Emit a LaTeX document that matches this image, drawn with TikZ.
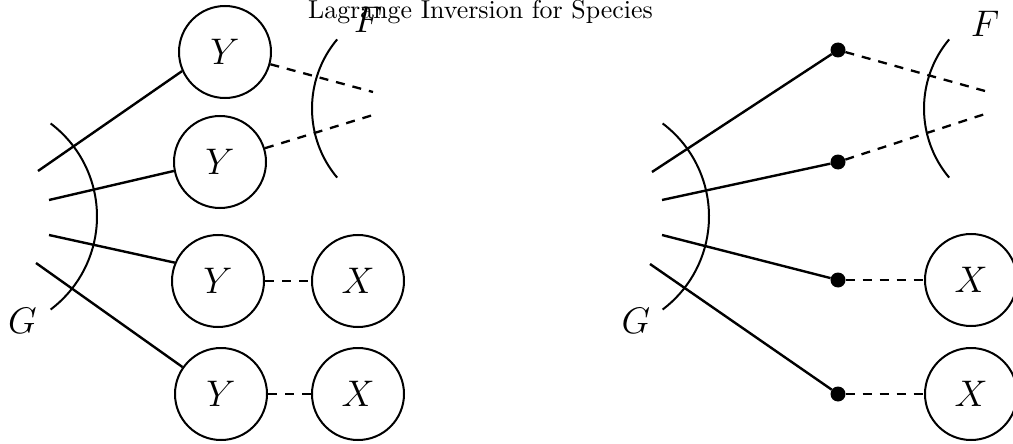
\RequirePackage{fix-cm}
\documentclass[tikz,border=0pt]{standalone}
\begin{document}
\begin{tikzpicture}[x=1pt,y=-1pt,
  circ/.style={draw, circle, minimum size=92pt, inner sep=0pt, line width=2pt, font=\fontsize{37}{40}\selectfont},
  dotnode/.style={circle, fill, minimum size=15pt, inner sep=0pt},
  solidline/.style={line width=2.4pt},
  dashline/.style={line width=2.3pt, dash pattern=on 9pt off 8pt},
  arcline/.style={line width=2pt},
  lab/.style={font=\fontsize{37}{40}\selectfont, inner sep=0pt, anchor=base}]
\useasboundingbox (0,0) rectangle (1013,444);

% title
\node[anchor=base, inner sep=0pt] (title) at (480.5,19) {\scalebox{2.59}{Lagrange Inversion for Species}};

% ---------- left diagram ----------
\node[circ] (Y1) at (225,52) {$Y$};
\node[circ] (Y2) at (220,162) {$Y$};
\node[circ] (Y3) at (218,281) {$Y$};
\node[circ] (Y4) at (221,394) {$Y$};
\node[circ] (X3) at (358,281) {$X$};
\node[circ] (X4) at (358,394) {$X$};

\coordinate (ga) at (38,171);
\coordinate (gb) at (49,200);
\coordinate (gc) at (49,235);
\coordinate (gd) at (36,263);
\coordinate (fa) at (373,92);
\coordinate (fb) at (373,115);

\draw[solidline] (ga) -- (Y1.204);
\draw[solidline] (gb) -- (Y2.191);
\draw[solidline] (gc) -- (Y3.157);
\draw[solidline] (gd) -- (Y4.145);

\draw[dashline] (Y1) -- (fa);
\draw[dashline] (Y2) -- (fb);
\draw[dashline] (Y3) -- (X3);
\draw[dashline] (Y4) -- (X4);

\draw[arcline] ([shift={(-53:116.5)}]-19.5,216.5) arc[start angle=-53, end angle=53, radius=116.5];
\draw[arcline] ([shift={(140:107.5)}]419.5,108.5) arc[start angle=140, end angle=220, radius=107.5];

\node[lab] (G) at (22.5,333) {$G$};
\node[lab] (F) at (368,33) {$F$};

% ---------- right diagram ----------
\node[dotnode] (d1) at (838,50) {};
\node[dotnode] (d2) at (838,162) {};
\node[dotnode] (d3) at (838,280) {};
\node[dotnode] (d4) at (838,394) {};
\node[circ] (X3r) at (971,280) {$X$};
\node[circ] (X4r) at (971,394) {$X$};

\coordinate (gar) at (652,172);
\coordinate (gbr) at (662,200);
\coordinate (gcr) at (662,235);
\coordinate (gdr) at (650,264);
\coordinate (far) at (985,91);
\coordinate (fbr) at (985,114);

\draw[solidline] (gar) -- (d1);
\draw[solidline] (gbr) -- (d2);
\draw[solidline] (gcr) -- (d3);
\draw[solidline] (gdr) -- (d4);

\draw[dashline] (d1) -- (far);
\draw[dashline] (d2) -- (fbr);
\draw[dashline] (d3) -- (X3r);
\draw[dashline] (d4) -- (X4r);

\draw[arcline] ([shift={(-53:116.5)}]592.5,216.5) arc[start angle=-53, end angle=53, radius=116.5];
\draw[arcline] ([shift={(140:107.5)}]1031.5,108.5) arc[start angle=140, end angle=220, radius=107.5];

\node[lab] (Gr) at (636,333) {$G$};
\node[lab] (Fr) at (985,37) {$F$};
\end{tikzpicture}
\end{document}
